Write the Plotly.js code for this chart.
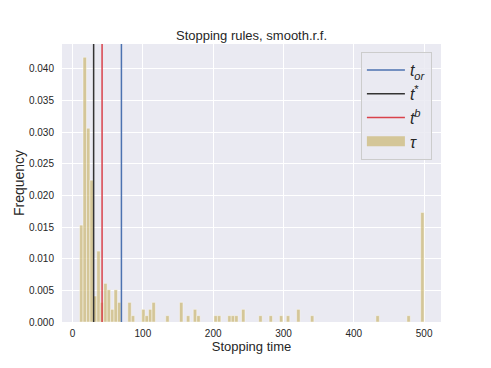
<!DOCTYPE html>
<html>
<head>
<meta charset="utf-8">
<script src="https://cdn.plot.ly/plotly-3.0.1.min.js"></script>
<style>
  body { margin: 0; background: #fff; }
  #chart { width: 491px; height: 368px; }
</style>
</head>
<body>
<div id="chart"></div>
<script>
// histogram of stopping times (bin centres, bin width 4.9) and their frequency
const binWidth = 4.9;
const stoppingTime = [12.45, 17.35, 22.25, 27.15, 32.05, 36.95, 41.85, 46.75, 51.65, 56.55,
    61.45, 66.35, 81.05, 85.95, 100.65, 105.55, 110.45, 115.35, 134.95, 154.55,
    164.35, 174.15, 179.05, 203.55, 208.45, 223.15, 228.05, 232.95, 242.75, 267.25,
    281.95, 296.65, 306.45, 321.15, 340.75, 433.85, 477.95, 497.55];
const frequency = [0.0153, 0.0418, 0.0306, 0.0224, 0.0041, 0.0112, 0.0031, 0.0061, 0.0051, 0.0020,
    0.0051, 0.0031, 0.0031, 0.0010, 0.0020, 0.0010, 0.0020, 0.0031, 0.0010, 0.0031,
    0.0010, 0.0020, 0.0010, 0.0010, 0.0010, 0.0010, 0.0010, 0.0010, 0.0020, 0.0010,
    0.0010, 0.0010, 0.0010, 0.0020, 0.0010, 0.0010, 0.0010, 0.0173];

// stopping rules drawn as vertical lines
const ruleNames = ['<i>t</i><sub><i>or</i></sub>', '<i>t</i><sup>*</sup>', '<i>t</i><sup><i>b</i></sup>'];
const ruleValues = [69.5, 30, 42];
const ruleColors = ['#4c72b0', '#333333', '#d9424b'];

const barColor = 'rgba(204,185,116,0.72)';
const yTop = 0.0439;

const traces = [];

traces.push({
    type: 'bar',
    x: stoppingTime,
    y: frequency,
    width: binWidth,
    showlegend: false,
    marker: {
        color: barColor,
        line: {color: 'rgba(255,255,255,0.7)', width: 0.6}
    }
});

for (let i = 0; i < ruleValues.length; i++) {
    traces.push({
        type: 'scatter',
        mode: 'lines',
        x: [ruleValues[i], ruleValues[i]],
        y: [0, yTop],
        name: ruleNames[i],
        legendrank: i + 1,
        line: {color: ruleColors[i], width: 1.5}
    });
}

// legend entry for the histogram: a wide patch like the matplotlib one
traces.push({
    type: 'scatter',
    mode: 'lines',
    x: [null],
    y: [null],
    name: '<i>τ</i>',
    legendrank: 4,
    line: {color: barColor, width: 11}
});

const layout = {
    width: 491,
    height: 368,
    margin: {l: 62, r: 50, t: 44, b: 46},
    paper_bgcolor: '#ffffff',
    plot_bgcolor: '#eaeaf2',
    font: {family: 'Liberation Sans, Arial, sans-serif', color: '#262626', size: 10},
    bargap: 0,
    showlegend: true,
    title: {
        text: 'Stopping rules, smooth.r.f.',
        font: {size: 13, color: '#262626'},
        x: 0.5 * (62 + 441) / 491,
        xanchor: 'center',
        y: 1 - 35 / 368,
        yanchor: 'middle'
    },
    xaxis: {
        range: [-15, 524],
        dtick: 100,
        tick0: 0,
        showgrid: true,
        gridcolor: '#ffffff',
        gridwidth: 1,
        zeroline: false,
        showline: false,
        ticks: '',
        ticklabelstandoff: 4,
        tickfont: {size: 10},
        title: {text: 'Stopping time', font: {size: 13}, standoff: 3}
    },
    yaxis: {
        range: [0, yTop],
        dtick: 0.005,
        tick0: 0,
        tickformat: '.3f',
        showgrid: true,
        gridcolor: '#ffffff',
        gridwidth: 1,
        zeroline: false,
        showline: false,
        ticks: '',
        ticklabelstandoff: 7,
        tickfont: {size: 10},
        title: {text: 'Frequency', font: {size: 14}, standoff: 1}
    },
    legend: {
        x: 0.976,
        y: 0.971,
        xanchor: 'right',
        yanchor: 'top',
        bgcolor: 'rgba(234,234,242,0.85)',
        bordercolor: '#cccccc',
        borderwidth: 1,
        font: {size: 16, color: '#262626'},
        itemwidth: 38,
        tracegroupgap: 0
    }
};

Plotly.newPlot('chart', traces, layout, {displayModeBar: false, staticPlot: true});
</script>
</body>
</html>
